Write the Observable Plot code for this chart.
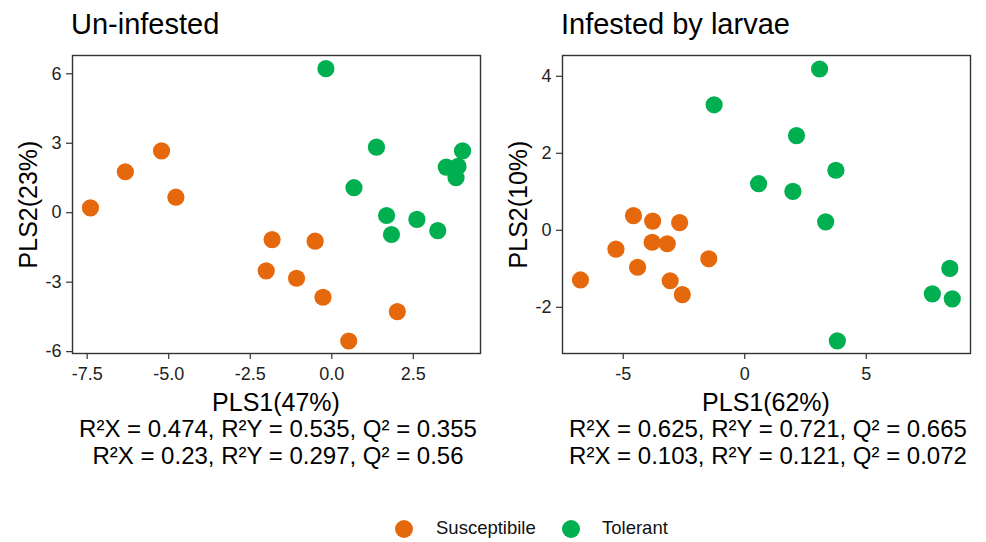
<!DOCTYPE html>
<html>
<head>
<meta charset="utf-8">
<script src="https://cdn.jsdelivr.net/npm/d3@7"></script>
<script src="https://cdn.jsdelivr.net/npm/@observablehq/plot@0.6"></script>
<style>
  html, body { margin: 0; padding: 0; background: #fff; }
  #root { position: relative; width: 986px; height: 542px; overflow: hidden; font-family: "Liberation Sans", Arial, Helvetica, sans-serif; color: #000; }
  .abs { position: absolute; white-space: nowrap; }
  .title { font-size: 29px; line-height: 29px; }
  .axt { font-size: 25px; line-height: 25px; text-align: center; }
  .cap { font-size: 24px; line-height: 24px; text-align: center; }
  .leg { font-size: 18.5px; line-height: 18.5px; }
  .sw { position: absolute; width: 18px; height: 18px; border-radius: 50%; }
</style>
</head>
<body>
<div id="root"></div>
<script>
// ---- data ----
const groups = ["Susceptibile", "Tolerant"];
const groupColors = ["#E6680C", "#00AF50"];

// Un-infested panel
const uninfSusX = [-7.40, -6.33, -5.22, -4.78, -1.83, -0.51, -2.01, -1.08, -0.27, 2.01, 0.52];
const uninfSusY = [0.21, 1.77, 2.67, 0.67, -1.16, -1.23, -2.51, -2.83, -3.65, -4.27, -5.54];
const uninfTolX = [-0.18, 1.37, 0.68, 1.68, 1.83, 2.61, 3.25, 3.51, 3.87, 3.81, 4.01];
const uninfTolY = [6.22, 2.83, 1.08, -0.12, -0.94, -0.29, -0.77, 1.97, 2.00, 1.51, 2.67];

// Infested by larvae panel
const infSusX = [-4.58, -3.79, -2.68, -5.30, -3.81, -3.19, -1.48, -4.41, -6.76, -3.07, -2.57];
const infSusY = [0.38, 0.24, 0.20, -0.49, -0.31, -0.35, -0.74, -0.96, -1.29, -1.31, -1.67];
const infTolX = [3.08, -1.26, 2.13, 3.75, 0.57, 1.98, 3.33, 8.44, 7.72, 8.54, 3.81];
const infTolY = [4.19, 3.26, 2.46, 1.56, 1.21, 1.01, 0.22, -0.99, -1.65, -1.78, -2.87];

// tick values and labels
const uninfXTicks = [-7.5, -5.0, -2.5, 0.0, 2.5];
const uninfYTicks = [-6, -3, 0, 3, 6];
const infXTicks = [-5, 0, 5];
const infYTicks = [-2, 0, 2, 4];

const titles = ["Un-infested", "Infested by larvae"];
const xTitles = ["PLS1(47%)", "PLS1(62%)"];
const yTitles = ["PLS2(23%)", "PLS2(10%)"];
const captions1 = ["R²X = 0.474, R²Y = 0.535, Q² = 0.355", "R²X = 0.625, R²Y = 0.721, Q² = 0.665"];
const captions2 = ["R²X = 0.23, R²Y = 0.297, Q² = 0.56", "R²X = 0.103, R²Y = 0.121, Q² = 0.072"];

// ---- build ----
function rows(xs, ys, g) { return xs.map((x, i) => ({x, y: ys[i], group: g})); }

const root = document.getElementById("root");

function panel(left, data, xdom, ydom, xt, yt, xfmt, idx) {
  const W = 490, H = 350, mt = 15, mb = 37, ml = 72, mr = 10;
  const svg = Plot.plot({
    width: W, height: H,
    marginLeft: ml, marginRight: mr, marginTop: mt, marginBottom: mb,
    style: { fontFamily: '"Liberation Sans", Arial, sans-serif', fontSize: "18px", color: "#222", background: "transparent" },
    x: { domain: xdom },
    y: { domain: ydom },
    color: { domain: groups, range: groupColors },
    marks: [
      Plot.axisX({ ticks: xt, tickFormat: xfmt, tickSize: 6, tickPadding: 8, label: null, fontSize: 18, stroke: "#333", strokeWidth: 1.2, fill: "#222" }),
      Plot.axisY({ ticks: yt, tickFormat: d => String(d), tickSize: 6, tickPadding: 5, label: null, fontSize: 18, stroke: "#333", strokeWidth: 1.2, fill: "#222" }),
      Plot.dot(data, { x: "x", y: "y", fill: "group", r: 8.6 }),
      Plot.frame({ stroke: "#333", strokeWidth: 1.4 })
    ]
  });
  const wrap = document.createElement("div");
  wrap.className = "abs";
  wrap.style.left = left + "px";
  wrap.style.top = "40px";
  wrap.appendChild(svg);
  root.appendChild(wrap);

  const px0 = left + ml, pw = W - ml - mr;
  const add = (cls, text, style) => {
    const d = document.createElement("div");
    d.className = "abs " + cls;
    d.textContent = text;
    Object.assign(d.style, style);
    root.appendChild(d);
    return d;
  };
  add("title", titles[idx], { left: (px0 - 1) + "px", top: "9.8px" });
  add("axt", xTitles[idx], { left: px0 + "px", width: pw + "px", top: "389.5px" });
  add("cap", captions1[idx], { left: (px0 + 2) + "px", width: pw + "px", top: "417px" });
  add("cap", captions2[idx], { left: (px0 + 2) + "px", width: pw + "px", top: "444px" });
  add("axt", yTitles[idx], { left: (left + 27.5 - 100) + "px", width: "200px", top: (204 - 12.5) + "px", transform: "rotate(-90deg)" });
}

panel(0,
  rows(uninfSusX, uninfSusY, groups[0]).concat(rows(uninfTolX, uninfTolY, groups[1])),
  [-7.95, 4.56], [-6.08, 6.79], uninfXTicks, uninfYTicks, d => d.toFixed(1), 0);

panel(490,
  rows(infSusX, infSusY, groups[0]).concat(rows(infTolX, infTolY, groups[1])),
  [-7.50, 9.29], [-3.20, 4.54], infXTicks, infYTicks, d => String(d), 1);

// legend
const legPos = [{cx: 404, tx: 436}, {cx: 571, tx: 602}];
groups.forEach((g, i) => {
  const s = document.createElement("div");
  s.className = "sw";
  s.style.left = (legPos[i].cx - 9) + "px";
  s.style.top = (529 - 9) + "px";
  s.style.background = groupColors[i];
  root.appendChild(s);
  const t = document.createElement("div");
  t.className = "abs leg";
  t.textContent = g;
  t.style.left = legPos[i].tx + "px";
  t.style.top = "519.3px";
  t.style.color = "#111";
  root.appendChild(t);
});
</script>
</body>
</html>
